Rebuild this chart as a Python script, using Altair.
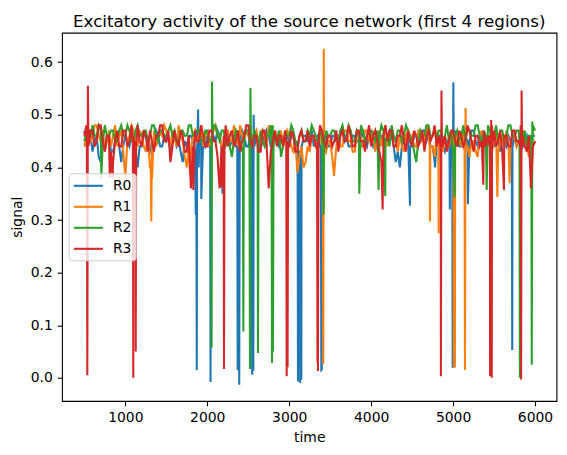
import altair as alt
import pandas as pd

# base grid: time 500..6000 step 25 (221 samples per region), read by eye
grid_t = list(range(500, 6001, 25))

r0_base = [
    0.47, 0.44, 0.45, 0.46, 0.43, 0.45, 0.46, 0.42, 0.41, 0.45, 0.44, 0.46, 0.46, 0.43, 0.43, 0.45, 0.45, 0.44, 0.41, 0.44,
    0.46, 0.45, 0.44, 0.46, 0.45, 0.43, 0.40, 0.44, 0.44, 0.46, 0.46, 0.44, 0.43, 0.45, 0.45, 0.47, 0.46, 0.44, 0.44, 0.46,
    0.45, 0.46, 0.43, 0.45, 0.46, 0.44, 0.45, 0.43, 0.41, 0.45, 0.44, 0.46, 0.46, 0.45, 0.43, 0.44, 0.44, 0.46, 0.45, 0.44,
    0.46, 0.44, 0.44, 0.46, 0.45, 0.47, 0.46, 0.44, 0.43, 0.45, 0.46, 0.44, 0.45, 0.46, 0.44, 0.45, 0.45, 0.47, 0.46, 0.44,
    0.44, 0.46, 0.45, 0.44, 0.46, 0.45, 0.43, 0.46, 0.45, 0.47, 0.46, 0.44, 0.44, 0.46, 0.45, 0.44, 0.46, 0.45, 0.45, 0.47,
    0.44, 0.46, 0.46, 0.44, 0.45, 0.43, 0.44, 0.46, 0.46, 0.45, 0.45, 0.47, 0.44, 0.45, 0.46, 0.44, 0.45, 0.46, 0.46, 0.44,
    0.44, 0.46, 0.46, 0.45, 0.45, 0.47, 0.47, 0.45, 0.46, 0.44, 0.44, 0.46, 0.46, 0.45, 0.45, 0.47, 0.46, 0.45, 0.44, 0.46,
    0.46, 0.44, 0.45, 0.46, 0.44, 0.46, 0.46, 0.45, 0.45, 0.47, 0.46, 0.44, 0.41, 0.43, 0.40, 0.44, 0.45, 0.46, 0.46, 0.44,
    0.44, 0.46, 0.46, 0.45, 0.45, 0.47, 0.47, 0.45, 0.46, 0.44, 0.44, 0.41, 0.45, 0.46, 0.46, 0.44, 0.43, 0.45, 0.44, 0.46,
    0.45, 0.47, 0.46, 0.44, 0.44, 0.46, 0.46, 0.45, 0.45, 0.47, 0.47, 0.45, 0.44, 0.46, 0.46, 0.44, 0.45, 0.46, 0.46, 0.44,
    0.44, 0.46, 0.45, 0.43, 0.46, 0.45, 0.44, 0.46, 0.45, 0.47, 0.46, 0.44, 0.45, 0.46, 0.44, 0.45, 0.46, 0.44, 0.45, 0.46,
    0.46,
]
r1_base = [
    0.44, 0.46, 0.47, 0.45, 0.46, 0.48, 0.48, 0.46, 0.45, 0.47, 0.43, 0.45, 0.47, 0.44, 0.46, 0.48, 0.44, 0.46, 0.47, 0.43,
    0.38, 0.45, 0.46, 0.48, 0.47, 0.45, 0.44, 0.47, 0.46, 0.44, 0.43, 0.46, 0.40, 0.45, 0.47, 0.44, 0.45, 0.47, 0.46, 0.48,
    0.47, 0.45, 0.44, 0.47, 0.46, 0.44, 0.48, 0.46, 0.45, 0.42, 0.40, 0.44, 0.43, 0.46, 0.47, 0.45, 0.46, 0.48, 0.44, 0.46,
    0.47, 0.44, 0.45, 0.47, 0.48, 0.46, 0.46, 0.44, 0.44, 0.47, 0.47, 0.45, 0.45, 0.48, 0.46, 0.44, 0.48, 0.46, 0.45, 0.47,
    0.46, 0.48, 0.44, 0.46, 0.47, 0.45, 0.45, 0.47, 0.46, 0.44, 0.48, 0.46, 0.44, 0.47, 0.46, 0.45, 0.47, 0.44, 0.45, 0.47,
    0.46, 0.44, 0.43, 0.45, 0.39, 0.42, 0.44, 0.40, 0.41, 0.44, 0.43, 0.46, 0.46, 0.44, 0.45, 0.47, 0.44, 0.41, 0.43, 0.45,
    0.45, 0.42, 0.39, 0.44, 0.46, 0.44, 0.44, 0.47, 0.47, 0.45, 0.45, 0.43, 0.43, 0.46, 0.46, 0.44, 0.44, 0.47, 0.47, 0.45,
    0.45, 0.47, 0.43, 0.45, 0.47, 0.44, 0.46, 0.48, 0.44, 0.46, 0.47, 0.45, 0.45, 0.43, 0.46, 0.44, 0.43, 0.46, 0.47, 0.45,
    0.46, 0.44, 0.44, 0.47, 0.47, 0.45, 0.45, 0.48, 0.46, 0.44, 0.44, 0.42, 0.47, 0.45, 0.45, 0.43, 0.46, 0.44, 0.44, 0.47,
    0.46, 0.44, 0.47, 0.45, 0.44, 0.47, 0.46, 0.44, 0.42, 0.45, 0.45, 0.43, 0.42, 0.46, 0.47, 0.44, 0.44, 0.46, 0.46, 0.43,
    0.45, 0.47, 0.43, 0.45, 0.46, 0.44, 0.47, 0.45, 0.44, 0.46, 0.46, 0.44, 0.45, 0.47, 0.47, 0.45, 0.44, 0.42, 0.46, 0.44,
    0.45,
]
r2_base = [
    0.45, 0.47, 0.47, 0.46, 0.48, 0.46, 0.46, 0.48, 0.47, 0.45, 0.48, 0.46, 0.46, 0.47, 0.47, 0.45, 0.45, 0.47, 0.48, 0.46,
    0.46, 0.48, 0.47, 0.45, 0.45, 0.47, 0.48, 0.46, 0.46, 0.47, 0.47, 0.45, 0.46, 0.48, 0.48, 0.46, 0.45, 0.47, 0.47, 0.46,
    0.46, 0.47, 0.48, 0.46, 0.47, 0.45, 0.45, 0.47, 0.47, 0.46, 0.46, 0.48, 0.48, 0.46, 0.46, 0.47, 0.47, 0.45, 0.45, 0.47,
    0.47, 0.45, 0.46, 0.48, 0.48, 0.46, 0.45, 0.47, 0.47, 0.44, 0.46, 0.44, 0.42, 0.45, 0.47, 0.46, 0.45, 0.43, 0.46, 0.47,
    0.47, 0.45, 0.45, 0.47, 0.46, 0.44, 0.47, 0.45, 0.44, 0.46, 0.46, 0.48, 0.48, 0.46, 0.45, 0.47, 0.42, 0.44, 0.47, 0.46,
    0.46, 0.48, 0.47, 0.45, 0.44, 0.46, 0.47, 0.45, 0.45, 0.47, 0.46, 0.48, 0.47, 0.46, 0.45, 0.47, 0.46, 0.44, 0.47, 0.46,
    0.46, 0.47, 0.47, 0.45, 0.45, 0.47, 0.48, 0.46, 0.46, 0.48, 0.47, 0.45, 0.45, 0.47, 0.46, 0.48, 0.47, 0.45, 0.46, 0.47,
    0.47, 0.46, 0.45, 0.47, 0.46, 0.48, 0.47, 0.45, 0.46, 0.44, 0.48, 0.46, 0.45, 0.47, 0.47, 0.45, 0.46, 0.48, 0.47, 0.46,
    0.45, 0.43, 0.41, 0.45, 0.47, 0.46, 0.46, 0.48, 0.48, 0.46, 0.46, 0.47, 0.45, 0.47, 0.47, 0.45, 0.46, 0.48, 0.45, 0.47,
    0.43, 0.46, 0.47, 0.45, 0.46, 0.48, 0.45, 0.47, 0.47, 0.46, 0.46, 0.48, 0.48, 0.46, 0.44, 0.47, 0.46, 0.48, 0.47, 0.45,
    0.46, 0.48, 0.45, 0.47, 0.47, 0.45, 0.46, 0.48, 0.48, 0.46, 0.46, 0.47, 0.47, 0.45, 0.45, 0.47, 0.44, 0.46, 0.46, 0.48,
    0.47,
]
r3_base = [
    0.46, 0.48, 0.44, 0.47, 0.47, 0.44, 0.45, 0.48, 0.48, 0.45, 0.43, 0.46, 0.46, 0.43, 0.41, 0.45, 0.47, 0.44, 0.44, 0.47,
    0.47, 0.44, 0.45, 0.48, 0.46, 0.44, 0.48, 0.45, 0.44, 0.47, 0.46, 0.43, 0.47, 0.45, 0.43, 0.46, 0.46, 0.48, 0.48, 0.45,
    0.45, 0.47, 0.41, 0.44, 0.47, 0.45, 0.44, 0.47, 0.46, 0.43, 0.43, 0.46, 0.36, 0.44, 0.47, 0.45, 0.45, 0.48, 0.46, 0.44,
    0.44, 0.47, 0.47, 0.45, 0.45, 0.42, 0.36, 0.44, 0.46, 0.48, 0.44, 0.46, 0.47, 0.44, 0.45, 0.47, 0.43, 0.45, 0.46, 0.48,
    0.48, 0.45, 0.44, 0.46, 0.46, 0.43, 0.43, 0.47, 0.47, 0.44, 0.36, 0.43, 0.45, 0.47, 0.44, 0.46, 0.46, 0.44, 0.47, 0.45,
    0.44, 0.47, 0.46, 0.43, 0.43, 0.46, 0.47, 0.45, 0.45, 0.47, 0.44, 0.46, 0.46, 0.44, 0.45, 0.48, 0.47, 0.45, 0.44, 0.46,
    0.46, 0.44, 0.45, 0.47, 0.43, 0.46, 0.47, 0.45, 0.45, 0.48, 0.46, 0.44, 0.44, 0.47, 0.47, 0.45, 0.45, 0.43, 0.46, 0.48,
    0.44, 0.46, 0.47, 0.45, 0.43, 0.41, 0.46, 0.48, 0.45, 0.47, 0.47, 0.44, 0.44, 0.46, 0.46, 0.48, 0.45, 0.43, 0.47, 0.45,
    0.44, 0.47, 0.46, 0.44, 0.45, 0.47, 0.43, 0.46, 0.47, 0.45, 0.46, 0.48, 0.44, 0.46, 0.41, 0.44, 0.46, 0.43, 0.45, 0.47,
    0.47, 0.45, 0.44, 0.47, 0.46, 0.44, 0.45, 0.48, 0.47, 0.45, 0.43, 0.46, 0.46, 0.44, 0.45, 0.47, 0.44, 0.46, 0.46, 0.48,
    0.47, 0.44, 0.45, 0.47, 0.43, 0.46, 0.46, 0.44, 0.44, 0.47, 0.47, 0.45, 0.45, 0.48, 0.46, 0.44, 0.43, 0.46, 0.36, 0.44,
    0.45,
]

# sharp dips / spikes (time, value)
r0_ev_t = [1860, 1866, 1872, 1880, 1888, 1895, 1927,
           2035, 2040, 2046, 2185,
           2366, 2371, 2380, 2390, 2396,
           2543, 2548, 2555, 2562, 2566, 2572,
           3102, 3107, 3114, 3122, 3128, 3134, 3140, 3148, 3154,
           3386, 3392, 3398, 3404, 4474, 4780,
           4956, 4960, 4966, 4990, 4995, 5003, 5008, 5180,
           5717, 5722, 5727]
r0_ev_v = [0.31, 0.43, 0.015, 0.45, 0.51, 0.40, 0.34,
           0.44, -0.008, 0.43, 0.35,
           0.44, 0.015, 0.42, -0.013, 0.43,
           0.44, 0.006, 0.42, 0.013, 0.50, 0.45,
           0.44, -0.007, 0.42, 0.03, 0.43, -0.01, 0.43, -0.003, 0.44,
           0.44, 0.015, 0.016, 0.43, 0.327, 0.40,
           0.44, 0.32, 0.44, 0.44, 0.019, 0.562, 0.44, 0.33,
           0.44, 0.053, 0.44]

r1_ev_t = [1310, 1317, 1326, 1789,
           3410, 3416, 3422, 3428, 3547,
           4714, 4718, 4722, 4820, 4824, 4828,
           5005, 5010, 5016, 5022, 5028,
           5140, 5145, 5152, 5158, 5540, 5690]
r1_ev_v = [0.40, 0.297, 0.38, 0.386,
           0.44, 0.026, 0.625, 0.44, 0.384,
           0.44, 0.297, 0.44, 0.44, 0.275, 0.44,
           0.44, 0.019, 0.42, 0.02, 0.44,
           0.44, 0.015, 0.513, 0.44, 0.344, 0.37]

r2_ev_t = [707,
           2048, 2053, 2058, 2064,
           2435, 2440, 2446,
           2515, 2521, 2527, 2533,
           2614, 2619, 2626,
           2785, 2790, 2796, 2802, 2808,
           3420, 3855, 4091, 4172, 5020, 5410,
           5810, 5815, 5821,
           5955, 5960, 5967, 5972]
r2_ev_v = [0.38,
           0.45, 0.057, 0.563, 0.45,
           0.44, 0.088, 0.44,
           0.45, 0.017, 0.551, 0.45,
           0.45, 0.047, 0.44,
           0.44, 0.028, 0.42, 0.05, 0.44,
           0.31, 0.35, 0.357, 0.345, 0.344, 0.357,
           0.45, 0.0, 0.45,
           0.45, 0.025, 0.487, 0.45]

r3_ev_t = [530, 536, 543, 549, 810, 845,
           1092, 1097, 1103, 1122, 1127, 1132,
           1830, 2176, 2199, 2204, 2210,
           2964, 2969, 2976, 2980, 2986,
           3340, 3345, 3351, 3357, 4140,
           4845, 4851, 4858, 4864, 5369,
           5446, 5451, 5458, 5465, 5472, 5478, 5621,
           5824, 5830, 5836, 5842]
r3_ev_v = [0.46, 0.005, 0.555, 0.45, 0.38, 0.38,
           0.45, 0.0, 0.44, 0.45, 0.05, 0.44,
           0.357, 0.363, 0.45, 0.017, 0.44,
           0.45, 0.003, 0.43, 0.02, 0.44,
           0.44, 0.03, 0.013, 0.44, 0.32,
           0.44, 0.003, 0.546, 0.44, 0.367,
           0.44, 0.003, 0.05, 0.49, 0.0, 0.44, 0.357,
           0.44, -0.003, 0.546, 0.44]

regions = ["R0", "R1", "R2", "R3"]
colors = ["#1f77b4", "#ff7f0e", "#2ca02c", "#d62728"]
series = {
    "R0": (r0_base, r0_ev_t, r0_ev_v),
    "R1": (r1_base, r1_ev_t, r1_ev_v),
    "R2": (r2_base, r2_ev_t, r2_ev_v),
    "R3": (r3_base, r3_ev_t, r3_ev_v),
}

frames = []
for name in regions:
    base, et, ev = series[name]
    pts = list(zip(grid_t, base)) + list(zip(et, ev))
    pts.sort(key=lambda p: p[0])
    frames.append(pd.DataFrame({"time": [p[0] for p in pts],
                                "signal": [p[1] for p in pts],
                                "region": name}))
df = pd.concat(frames, ignore_index=True)

FONT = "DejaVu Sans"

color_enc = alt.Color(
    "region:N",
    scale=alt.Scale(domain=regions, range=colors),
    legend=alt.Legend(
        title=None, orient="none", legendX=6.7, legendY=140.6,
        symbolType="M-2,0H2", symbolStrokeWidth=2.08, symbolSize=210,
        symbolOffset=7.25,
        labelFontSize=13.9, labelFont=FONT, labelColor="black",
        labelOffset=16, padding=4, rowPadding=5,
        fillColor="rgba(255,255,255,0.8)", strokeColor="#cccccc",
        cornerRadius=3,
    ),
)

x_enc = alt.X(
    "time:Q",
    scale=alt.Scale(domain=[227, 6262], nice=False, zero=False),
    axis=alt.Axis(values=[1000, 2000, 3000, 4000, 5000, 6000], format="d",
                  title="time", labelBaseline="alphabetic", labelPadding=15.6,
                  titleY=40, titleBaseline="alphabetic"),
)
y_enc = alt.Y(
    "signal:Q",
    scale=alt.Scale(domain=[-0.044, 0.656], nice=False, zero=False),
    axis=alt.Axis(values=[0.0, 0.1, 0.2, 0.3, 0.4, 0.5, 0.6], format=".1f",
                  title="signal", labelPadding=4.86, labelBaseline="middle",
                  titleX=-40.7, titleY=184, titleBaseline="alphabetic",
                  titleAngle=270),
)

layers = [
    alt.Chart(df).transform_filter(alt.datum.region == name)
    .mark_line(strokeWidth=2.08)
    .encode(x=x_enc, y=y_enc, color=color_enc, order="time:Q")
    for name in regions
]

chart = (
    alt.layer(*layers)
    .properties(
        width=494.5, height=368.3,
        autosize=alt.AutoSizeParams(type="none"),
        padding={"left": 62, "top": 32.7, "right": 10.5, "bottom": 54},
        title=alt.TitleParams(
            "Excitatory activity of the source network (first 4 regions)",
            fontSize=16.7, font=FONT, fontWeight="normal", color="black",
            anchor="middle", baseline="alphabetic", offset=8.3, dy=19.4,
        ),
    )
    .configure_view(stroke="black", strokeWidth=1.1)
    .configure_axis(
        grid=False, domain=False, tickColor="black", tickWidth=1.1, tickSize=4.86,
        labelFontSize=13.9, labelFont=FONT, labelColor="black",
        titleFontSize=13.9, titleFont=FONT, titleFontWeight="normal",
        titleColor="black",
    )
)

chart.save("out.html", embed_options={"renderer": "svg", "actions": False})
